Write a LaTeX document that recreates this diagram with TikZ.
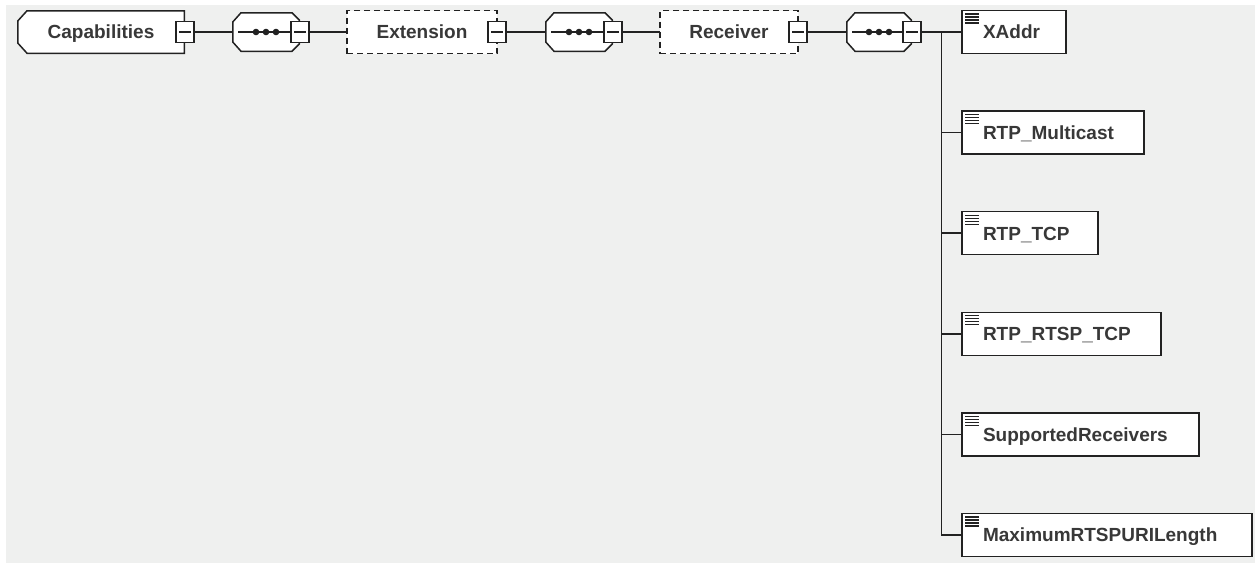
\documentclass[tikz,border=0pt]{standalone}
\usepackage{fontspec}
\setsansfont{Liberation Sans}
\usetikzlibrary{positioning,calc}
\definecolor{xsdBack}{HTML}{EFF0EF}
\definecolor{xsdInk}{HTML}{222222}
\definecolor{xsdText}{HTML}{383838}
\tikzset{
  elem/.style     = {draw=xsdInk, line width=1.5pt, fill=white, inner sep=0pt,
                     outer sep=0pt, minimum height=43pt, text=xsdText,
                     text height=13.6pt, text depth=0pt,
                     font=\sffamily\bfseries\fontsize{19}{22}\selectfont},
  % chamfered outlines are drawn inside the node, which itself is invisible
  headbox/.style  = {elem, draw=none, fill=xsdBack,
                     minimum width=168pt, minimum height=44pt,
                     path picture={
                       \filldraw[fill=white, draw=xsdInk, line width=1.5pt]
                         ([shift={(10pt,-0.75pt)}]path picture bounding box.north west)
                         -- ([shift={(-0.75pt,-0.75pt)}]path picture bounding box.north east)
                         -- ([shift={(-0.75pt,0.75pt)}]path picture bounding box.south east)
                         -- ([shift={(10pt,0.75pt)}]path picture bounding box.south west)
                         -- ([shift={(0.75pt,11pt)}]path picture bounding box.south west)
                         -- ([shift={(0.75pt,-11pt)}]path picture bounding box.north west)
                         -- cycle;}},
  optbox/.style   = {elem, dash pattern=on 6pt off 4pt},
  seqbox/.style   = {fill=xsdBack, inner sep=0pt, outer sep=0pt,
                     minimum width=68pt, minimum height=40pt,
                     path picture={
                       \filldraw[fill=white, draw=xsdInk, line width=1.5pt]
                         ([shift={(9pt,-0.75pt)}]path picture bounding box.north west)
                         -- ([shift={(-8pt,-0.75pt)}]path picture bounding box.north east)
                         -- ([shift={(-0.75pt,-8pt)}]path picture bounding box.north east)
                         -- ([shift={(-0.75pt,8pt)}]path picture bounding box.south east)
                         -- ([shift={(-8pt,0.75pt)}]path picture bounding box.south east)
                         -- ([shift={(9pt,0.75pt)}]path picture bounding box.south west)
                         -- ([shift={(0.75pt,10pt)}]path picture bounding box.south west)
                         -- ([shift={(0.75pt,-10pt)}]path picture bounding box.north west)
                         -- cycle;
                       \draw[xsdInk, line width=1.5pt]
                         ([xshift=6pt]path picture bounding box.west)
                         -- (path picture bounding box.east);
                       \foreach \d in {-10pt,0pt,10pt}
                         \fill[xsdInk] ([xshift=\d]path picture bounding box.center)
                           circle (3.3pt);}},
  leafbox/.style  = {elem, align=left, inner xsep=21pt,
                     path picture={
                       \foreach \k in {0,...,3}
                         \draw[xsdInk, line width=1.2pt]
                           ([shift={(3pt,-3.5pt-3pt*\k)}]path picture bounding box.north west)
                           -- ++(14pt,0);}},
  minusbox/.style = {draw=xsdInk, line width=1.5pt, fill=white, inner sep=0pt,
                     outer sep=0pt, minimum width=18pt, minimum height=21pt, solid,
                     path picture={
                       \draw[xsdInk, line width=1.2pt]
                         ([xshift=-6pt]path picture bounding box.center)
                         -- ([xshift=6pt]path picture bounding box.center);}},
  wire/.style     = {draw=xsdInk, line width=1.5pt},
}

\begin{document}
\begin{tikzpicture}[x=1pt, y=-1pt]
  \useasboundingbox (0,0) rectangle (1255,565);
  \fill[xsdBack] (6,5) rectangle (1255,563);

  % main chain
  \node[headbox] (cap) at (101,32) {Capabilities};
  \node[minusbox] (capm) at (cap.east) {};
  \node[seqbox, right=47pt of cap] (seqa) {};
  \node[minusbox] (seqam) at (seqa.east) {};
  \node[optbox, minimum width=150pt, right=47pt of seqa] (ext) {Extension};
  \node[minusbox] (extm) at (ext.east) {};
  \node[seqbox, right=48pt of ext] (seqb) {};
  \node[minusbox] (seqbm) at (seqb.east) {};
  \node[optbox, minimum width=138pt, right=47pt of seqb] (rec) {Receiver};
  \node[minusbox] (recm) at (rec.east) {};
  \node[seqbox, minimum width=66pt, right=48pt of rec] (seqc) {};
  \node[minusbox] (seqcm) at (seqc.east) {};

  \draw[wire] (capm) -- (seqa);
  \draw[wire] (seqam) -- (ext);
  \draw[wire] (extm) -- (seqb);
  \draw[wire] (seqbm) -- (rec);
  \draw[wire] (recm) -- (seqc);

  % children of the last sequence
  \node[leafbox, text width=62pt, right=50pt of seqc] (xaddr) {XAddr};
  \node[leafbox, text width=140pt, below right=57.6pt and 0pt of xaddr.south west]
    (mcast) {RTP\_Multicast};
  \node[leafbox, text width=94pt, below right=57.6pt and 0pt of mcast.south west]
    (tcp) {RTP\_TCP};
  \node[leafbox, text width=157pt, below right=57.6pt and 0pt of tcp.south west]
    (rtsp) {RTP\_RTSP\_TCP};
  \node[leafbox, text width=195pt, below right=57.6pt and 0pt of rtsp.south west]
    (supp) {SupportedReceivers};
  \node[leafbox, text width=248pt, below right=57.6pt and 0pt of supp.south west]
    (maxlen) {MaximumRTSPURILength};

  \coordinate (bus) at ($(seqcm.east)!0.5!(xaddr.west)$);
  \draw[wire] (seqcm) -- (xaddr);
  \draw[wire] (bus) |- (mcast);
  \draw[wire] (bus) |- (tcp);
  \draw[wire] (bus) |- (rtsp);
  \draw[wire] (bus) |- (supp);
  \draw[wire] (bus) |- (maxlen);
\end{tikzpicture}
\end{document}
